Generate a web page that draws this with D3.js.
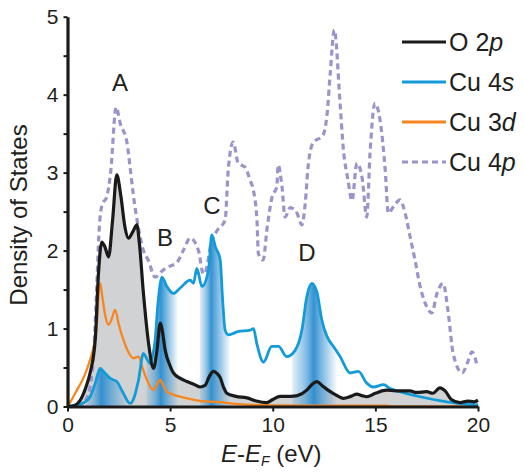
<!DOCTYPE html>
<html><head><meta charset="utf-8">
<script src="https://cdn.jsdelivr.net/npm/d3@7"></script>
<style>
html,body{margin:0;padding:0;background:#fff;}
svg text{font-family:"Liberation Sans",Arial,Helvetica,sans-serif;fill:#231f20;}
</style></head>
<body><svg id="chart" width="524" height="475"></svg>
<script>
// ---- data ----
const o2pE = [0,0.3,0.62,0.9,1.1,1.35,1.51,1.67,1.82,2.0,2.2,2.4,2.6,2.8,2.97,3.2,3.38,3.5,3.7,3.95,4.19,4.35,4.52,4.6,4.76,5.0,5.16,5.5,5.82,6.2,6.46,6.7,6.9,7.11,7.3,7.44,7.6,7.76,8.2,8.74,9.2,9.71,10.0,10.36,10.85,11.2,11.66,11.9,12.15,12.4,12.64,13.0,13.44,13.8,14.1,14.35,14.58,15.0,15.56,16.0,16.69,17.0,17.5,17.8,18.15,18.4,18.7,19.13,19.5,19.8,20.0];
const o2pV = [0,0.01,0.08,0.25,0.43,0.85,1.71,2.11,2.05,1.92,2.4,2.97,2.7,2.3,2.16,2.25,2.33,2.1,1.45,0.81,0.49,0.7,1.07,1.0,0.72,0.52,0.43,0.36,0.32,0.28,0.25,0.27,0.38,0.45,0.42,0.37,0.25,0.17,0.13,0.11,0.07,0.05,0.09,0.13,0.13,0.14,0.21,0.28,0.32,0.27,0.22,0.16,0.105,0.13,0.16,0.14,0.125,0.17,0.21,0.2,0.2,0.18,0.19,0.17,0.24,0.2,0.09,0.05,0.07,0.06,0.08];

const cu4sE = [0,0.46,0.8,1.1,1.35,1.59,1.75,2.08,2.4,2.7,3.05,3.25,3.46,3.7,3.85,4.03,4.15,4.27,4.4,4.52,4.6,4.84,5.16,5.49,5.98,6.14,6.3,6.55,6.87,7.03,7.2,7.44,7.55,7.68,7.84,8.3,8.9,9.06,9.22,9.55,9.95,10.28,10.68,11.09,11.42,11.66,11.9,12.15,12.39,12.64,12.96,13.28,13.77,14.17,14.58,14.9,15.4,15.72,16.2,17.18,18.48,19.94,20.0];
const cu4sV = [0,0.02,0.05,0.125,0.3,0.49,0.45,0.36,0.32,0.18,0.04,0.12,0.34,0.68,0.62,0.55,0.65,0.85,1.3,1.58,1.66,1.54,1.45,1.52,1.62,1.58,1.77,1.54,1.75,2.2,2.05,1.88,1.4,0.98,0.92,0.96,0.98,1.0,0.81,0.57,0.77,0.77,0.64,0.72,0.98,1.41,1.58,1.47,1.11,0.9,0.77,0.64,0.43,0.45,0.3,0.25,0.28,0.23,0.19,0.125,0.06,0.02,0.02];

const cu3dE = [0,0.05,0.46,0.8,1.1,1.3,1.43,1.52,1.59,1.7,1.85,2.0,2.15,2.32,2.5,2.73,3.0,3.21,3.46,3.65,3.87,4.19,4.35,4.52,4.65,4.84,5.3,5.82,6.5,7.11,7.5,7.93,9.06,10,12,15.5,16,20];
const cu3dV = [0,0.02,0.21,0.38,0.6,0.8,1.05,1.45,1.58,1.4,1.15,1.05,1.12,1.24,1.05,0.85,0.68,0.62,0.64,0.5,0.34,0.21,0.28,0.34,0.28,0.19,0.14,0.105,0.07,0.06,0.055,0.04,0.02,0.015,0.012,0.01,0,0];

const cu4pE = [0.5,0.8,1.1,1.3,1.45,1.55,1.7,1.9,2.1,2.37,2.57,2.9,3.05,3.2,3.45,3.7,3.93,4.27,4.66,5.0,5.34,5.64,5.98,6.38,6.62,6.75,7.0,7.3,7.68,7.83,8.07,8.32,8.65,8.9,9.05,9.23,9.3,9.53,9.73,9.97,10.2,10.26,10.45,10.6,10.85,11.18,11.42,11.58,11.72,11.96,12.45,12.65,12.8,13.0,13.28,13.43,13.67,13.86,14.1,14.35,14.58,14.74,14.98,15.23,15.48,15.63,15.87,16.2,16.45,16.69,16.93,17.18,17.42,17.75,18.0,18.3,18.55,18.79,19.23,19.47,19.71,19.95];
const cu4pV = [0,0.05,0.25,0.8,1.7,2.3,2.6,2.68,3.0,3.84,3.63,3.38,3.07,2.73,2.3,2.0,1.88,1.66,1.75,1.8,1.85,2.0,2.16,2.0,1.7,1.75,2.1,2.26,2.39,3.03,3.39,3.12,3.07,2.9,2.78,2.39,1.96,1.88,2.3,2.69,2.82,3.1,2.82,2.43,2.55,2.48,2.33,2.6,3.07,3.38,3.48,3.76,4.27,4.83,3.89,3.33,2.9,2.64,3.12,2.94,2.43,3.25,3.89,3.67,3.03,2.48,2.56,2.65,2.48,2.18,1.88,1.54,1.33,1.2,1.45,1.58,1.2,0.68,0.43,0.55,0.7,0.53];

// highlighted Cu 4s features: start, centre, end (eV)
const bandStart  = [0.9, 3.85, 6.45, 10.95];
const bandCentre = [1.65, 4.55, 7.0, 12.0];
const bandEnd    = [3.0, 5.4, 7.95, 13.15];
const peakLabels = ["A","B","C","D"];
const peakLabelE = [2.56, 4.75, 7.04, 11.66];
const peakLabelV = [4.05, 2.06, 2.47, 1.87];

const xTicks = [0,5,10,15,20];
const yTicks = [0,1,2,3,4,5];
const yMinor = [0.5,1.5,2.5,3.5,4.5];
const legendNames = [["O 2","p"],["Cu 4","s"],["Cu 3","d"],["Cu 4","p"]];

// ---- drawing ----
const svg = d3.select("#chart");
const x = d3.scaleLinear().domain([0,20]).range([67.5,478]);
const y = d3.scaleLinear().domain([0,5]).range([406.5,16.7]);

const zip = (E,V) => E.map((e,i)=>({e, v:V[i]}));
const o2p = zip(o2pE,o2pV), cu4s = zip(cu4sE,cu4sV), cu3d = zip(cu3dE,cu3dV), cu4p = zip(cu4pE,cu4pV);

const curve = d3.curveMonotoneX;
const line = d3.line().x(d=>x(d.e)).y(d=>y(d.v)).curve(curve);
const area = d3.area().x(d=>x(d.e)).y0(y(0)).y1(d=>y(d.v)).curve(curve);

const defs = svg.append("defs");
// gray fill under O 2p
svg.append("path").datum(o2p).attr("d", area).attr("fill","#d1d2d4");

// blue gradient bands under Cu 4s
bandStart.forEach((s,i)=>{
  const g = defs.append("linearGradient").attr("id","bg"+i)
    .attr("gradientUnits","userSpaceOnUse")
    .attr("x1", x(s)).attr("x2", x(bandEnd[i])).attr("y1",0).attr("y2",0);
  const c = (x(bandCentre[i]) - x(s)) / (x(bandEnd[i]) - x(s));
  g.append("stop").attr("offset",0).attr("stop-color","#3b96d4").attr("stop-opacity",0.15);
  g.append("stop").attr("offset",c*0.55).attr("stop-color","#3b96d4").attr("stop-opacity",0.55);
  g.append("stop").attr("offset",c).attr("stop-color","#2b8ccf").attr("stop-opacity",0.95);
  g.append("stop").attr("offset",c+(1-c)*0.45).attr("stop-color","#3b96d4").attr("stop-opacity",0.55);
  g.append("stop").attr("offset",1).attr("stop-color","#3b96d4").attr("stop-opacity",0.0);
  defs.append("clipPath").attr("id","cp"+i).append("rect")
    .attr("x", x(s)).attr("width", x(bandEnd[i]) - x(s)).attr("y",0).attr("height",475);
  svg.append("path").datum(cu4s).attr("d", area)
    .attr("fill","url(#bg"+i+")").attr("clip-path","url(#cp"+i+")");
});

// lines
svg.append("path").datum(cu4p).attr("d", line).attr("fill","none")
  .attr("stroke","#9b94cb").attr("stroke-width",3.2).attr("stroke-dasharray","6,4");
svg.append("path").datum(cu3d).attr("d", line).attr("fill","none")
  .attr("stroke","#f7861e").attr("stroke-width",2.3);
svg.append("path").datum(cu4s).attr("d", line).attr("fill","none")
  .attr("stroke","#129bd8").attr("stroke-width",2.8);
svg.append("path").datum(o2p).attr("d", line).attr("fill","none")
  .attr("stroke","#1a1a1a").attr("stroke-width",3.2);

// axes
const fontSize = 21;
const xAxis = svg.append("g").attr("transform",`translate(0,${y(0)})`)
  .call(d3.axisBottom(x).tickValues(xTicks).tickSize(5).tickSizeOuter(0).tickPadding(6).tickFormat(d3.format("d")));
const yAxis = svg.append("g").attr("transform",`translate(${x(0)},0)`)
  .call(d3.axisLeft(y).tickValues(yTicks.concat(yMinor)).tickSize(4).tickSizeOuter(0).tickPadding(5)
    .tickFormat(d => Number.isInteger(d) ? d3.format("d")(d) : ""));
[xAxis,yAxis].forEach(a=>{
  a.select(".domain").attr("stroke","#1a1a1a").attr("stroke-width",3.2);
  a.selectAll(".tick line").attr("stroke","#1a1a1a").attr("stroke-width",2);
  a.selectAll(".tick text").attr("font-size",fontSize).attr("fill","#231f20")
    .style("font-family",'"Liberation Sans",Arial,sans-serif');
});

// axis titles
svg.append("text").attr("transform","translate(27,215) rotate(-90)")
  .attr("text-anchor","middle").attr("font-size",24).text("Density of States");
const xl = svg.append("text").attr("x",221).attr("y",462).attr("font-size",24);
xl.append("tspan").attr("font-style","italic").text("E");
xl.append("tspan").text("-");
xl.append("tspan").attr("font-style","italic").text("E");
xl.append("tspan").attr("font-style","italic").attr("font-size",14).attr("dy",4).text("F");
xl.append("tspan").attr("dy",-4).text(" (eV)");

// peak letters
peakLabels.forEach((t,i)=>{
  svg.append("text").attr("x",x(peakLabelE[i])).attr("y",y(peakLabelV[i]))
    .attr("text-anchor","middle").attr("font-size",24).text(t);
});

// legend
const legColors = ["#1a1a1a","#129bd8","#f7861e","#9b94cb"];
legendNames.forEach((n,i)=>{
  const ly = 42 + i*40;
  svg.append("line").attr("x1",402).attr("x2",446).attr("y1",ly).attr("y2",ly)
    .attr("stroke",legColors[i]).attr("stroke-width",3)
    .attr("stroke-dasharray", i===3?"6,4":null);
  const t = svg.append("text").attr("x",449).attr("y",ly+9).attr("font-size",25);
  t.append("tspan").text(n[0]);
  t.append("tspan").attr("font-style","italic").text(n[1]);
});
</script></body></html>
